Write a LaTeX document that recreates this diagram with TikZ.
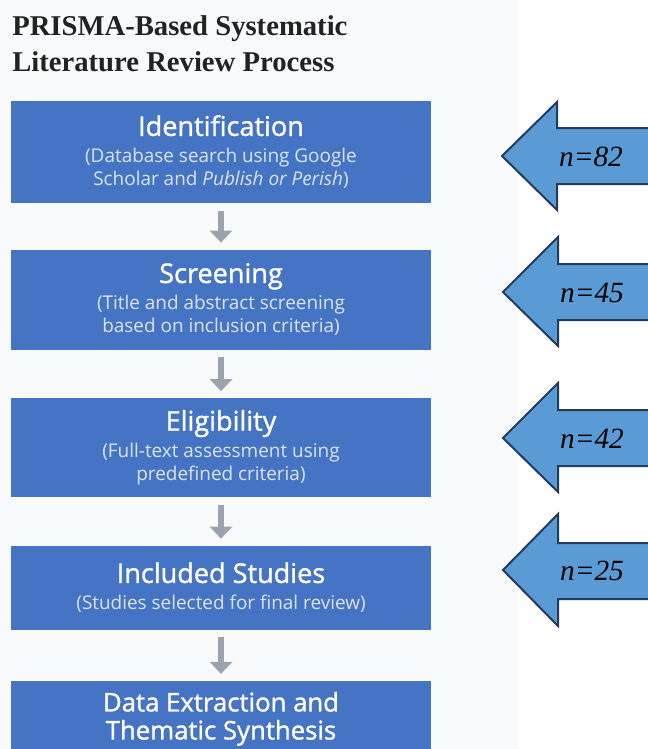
\documentclass[tikz,border=0pt]{standalone}
\usepackage{fontspec}
\setmainfont{Liberation Serif}
\newfontfamily\boxfont{Open Sans}
\newfontfamily\headfont[FakeBold=1.2]{Open Sans}
\usetikzlibrary{positioning,arrows.meta}
\definecolor{stepblue}{RGB}{70,116,196}
\definecolor{countblue}{RGB}{91,155,213}
\definecolor{countedge}{RGB}{36,60,92}
\definecolor{flowgray}{RGB}{155,163,175}
\definecolor{subtext}{RGB}{220,228,243}
\definecolor{backgray}{RGB}{249,250,252}
\definecolor{titleink}{RGB}{34,34,34}

\begin{document}
\begin{tikzpicture}[line join=miter,x=0.75pt,y=-0.75pt,
    stagebox/.style={fill=stepblue,text=subtext,minimum width=315pt,align=center,
      inner sep=0pt,font=\boxfont\fontsize{14.2}{17.25}\selectfont},
    flowarrow/.style={draw=flowgray,line width=4.5pt,shorten <=5.5pt,shorten >=5pt,
      -{Triangle[width=16.5pt,length=9pt]}},
    countarrow/.style={fill=countblue,draw=countedge,line width=1.5pt},
    counttext/.style={font=\fontsize{22}{24}\selectfont\itshape,text=black}]

    \clip (0,0) rectangle (648,749);
    \fill[white] (0,0) rectangle (648,749);
    \fill[backgray] (0,0) rectangle (518,749);

    % title
    \node[anchor=base west,align=left,inner sep=0pt,text=titleink,
      font=\fontsize{21.5}{26.25}\selectfont\bfseries] (title) at (12,71)
      {PRISMA-Based Systematic\\Literature Review Process};

    % stages
    \node[stagebox,minimum height=76.5pt] (ident) at (221,152)
      {{\headfont\fontsize{20.3}{23}\selectfont\color{white}Identification}\\[3pt]
       (Database search using Google\\Scholar and \textit{Publish or Perish})};
    \node[stagebox,minimum height=75pt,below=34.5pt of ident] (screen)
      {{\headfont\fontsize{20.3}{23}\selectfont\color{white}Screening}\\[3pt]
       (Title and abstract screening\\based on inclusion criteria)};
    \node[stagebox,minimum height=74.25pt,below=36pt of screen] (elig)
      {{\headfont\fontsize{20.3}{23}\selectfont\color{white}Eligibility}\\[3pt]
       (Full-text assessment using\\predefined criteria)};
    \node[stagebox,minimum height=63pt,below=36pt of elig] (incl)
      {{\headfont\fontsize{20.3}{23}\selectfont\color{white}Included Studies}\\[3pt]
       (Studies selected for final review)};
    \node[stagebox,minimum height=57pt,below=38pt of incl,text=white,
      font=\headfont\fontsize{19.3}{21}\selectfont] (synth)
      {Data Extraction and\\Thematic Synthesis};

    \draw[flowarrow] (ident) -- (screen);
    \draw[flowarrow] (screen) -- (elig);
    \draw[flowarrow] (elig) -- (incl);
    \draw[flowarrow] (incl) -- (synth);

    % counts
    \draw[countarrow] (502,156) -- (557,102) -- (557,128) -- (660,128)
      -- (660,184) -- (557,184) -- (557,210) -- cycle;
    \node[counttext] (n82) at (591,157) {n=82};

    \draw[countarrow] (503,292) -- (558,237) -- (558,264) -- (660,264)
      -- (660,320) -- (558,320) -- (558,346) -- cycle;
    \node[counttext] (n45) at (592,293) {n=45};

    \draw[countarrow] (503,438) -- (558,383) -- (558,410) -- (660,410)
      -- (660,466) -- (558,466) -- (558,492) -- cycle;
    \node[counttext] (n42) at (592,439) {n=42};

    \draw[countarrow] (503,570) -- (558,514) -- (558,543) -- (660,543)
      -- (660,599) -- (558,599) -- (558,626) -- cycle;
    \node[counttext] (n25) at (592,571) {n=25};
\end{tikzpicture}
\end{document}
